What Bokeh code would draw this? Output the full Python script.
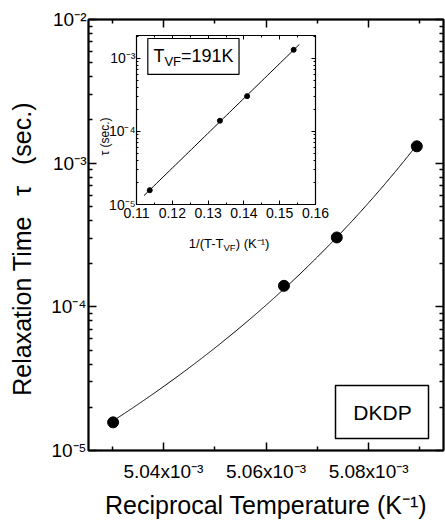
import numpy as np
from bokeh.plotting import figure
from bokeh.models import (Range1d, FixedTicker, CustomJSTickFormatter, LinearAxis,
                          LogAxis, Label, BoxAnnotation)
from bokeh.embed import file_html
from bokeh.resources import INLINE

# ---------------- data ----------------
recip_T = [5.0302e-3, 5.0635e-3, 5.0738e-3, 5.0894e-3]       # 1/T (K^-1)
tau = [1.57e-5, 1.40e-4, 3.04e-4, 1.31e-3]                  # relaxation time (s)
inv_T_minus_TVF = [0.1137, 0.1333, 0.1409, 0.1539]          # 1/(T-T_VF) (K^-1)
T_VF = 191.0
inset_fit_span = [0.1121, 0.1555]

main_x_ticks = [5.04e-3, 5.06e-3, 5.08e-3]
main_x_minor = [5.03e-3, 5.05e-3, 5.07e-3, 5.09e-3]
main_y_ticks = [1e-5, 1e-4, 1e-3, 1e-2]
inset_x_ticks = [0.11, 0.12, 0.13, 0.14, 0.15, 0.16]
inset_x_minor = [0.115, 0.125, 0.135, 0.145, 0.155]
inset_y_ticks = [1e-5, 1e-4, 1e-3]

FONT = "Liberation Sans"

def log_minors(decades):
    return [m * 10.0 ** d for d in decades for m in range(2, 10)]

SUP_JS = """
const sup = {"-":"\u207b","0":"\u2070","1":"\u00b9","2":"\u00b2","3":"\u00b3","4":"\u2074",
             "5":"\u2075","6":"\u2076","7":"\u2077","8":"\u2078","9":"\u2079"};
function s(n){ return String(n).split("").map(c => sup[c]).join(""); }
"""
pow_fmt = CustomJSTickFormatter(code=SUP_JS + """
const e = Math.round(Math.log10(tick));
return "10" + s(e);
""")
sci_fmt = CustomJSTickFormatter(code=SUP_JS + """
return (tick*1e3).toFixed(2) + "x10" + s(-3);
""")
empty_fmt = CustomJSTickFormatter(code="return '';")

# ---------------- fits ----------------
u = 1.0 / (1.0 / np.array(recip_T) - T_VF)
a, b = np.polyfit(u, np.log10(tau), 1)
xs = np.linspace(min(recip_T), max(recip_T), 300)
ys = 10 ** (a / (1.0 / xs - T_VF) + b)

ai, bi = np.polyfit(inv_T_minus_TVF, np.log10(tau), 1)
xi = np.linspace(inset_fit_span[0], inset_fit_span[1], 50)
yi = 10 ** (ai * xi + bi)

# ---------------- main figure ----------------
MX0, MX1 = 5.0254e-3, 5.0946e-3
p = figure(width=445, height=523, x_range=Range1d(MX0, MX1),
           y_range=Range1d(1e-5, 1e-2), y_axis_type="log",
           output_backend="svg", toolbar_location=None,
           min_border_left=88, min_border_right=2, min_border_top=19, min_border_bottom=73,
           background_fill_color="white", border_fill_color="white")
p.grid.visible = False
p.outline_line_color = "black"
p.outline_line_width = 2

# helper: place annotation at a pixel spot of the main frame (layout only)
def main_xy(px, py):
    return MX0 + (px - 88) * (MX1 - MX0) / 355.0, 10 ** (-5 + (450 - py) * 3.0 / 431.0)

def style_axis(ax, size, major_in, minor_in, width):
    ax.axis_line_color = "black"
    ax.axis_line_width = width
    ax.major_tick_in = major_in
    ax.major_tick_out = 0
    ax.minor_tick_in = minor_in
    ax.minor_tick_out = 0
    ax.major_tick_line_color = "black"
    ax.minor_tick_line_color = "black"
    ax.major_tick_line_width = width
    ax.minor_tick_line_width = width
    ax.major_label_text_font = FONT
    ax.major_label_text_font_size = size
    ax.major_label_text_color = "black"
    ax.axis_label_text_font = FONT
    ax.axis_label_text_font_style = "normal"
    ax.axis_label_text_color = "black"

xt = FixedTicker(ticks=main_x_ticks, minor_ticks=main_x_minor)
yt = FixedTicker(ticks=main_y_ticks, minor_ticks=log_minors([-5, -4, -3]))

p.xaxis.ticker = xt
p.xaxis.formatter = sci_fmt
p.yaxis.ticker = yt
p.yaxis.formatter = pow_fmt
style_axis(p.xaxis[0], "19px", 8, 4, 1.5)
style_axis(p.yaxis[0], "19px", 8, 4, 1.5)
p.xaxis.major_label_standoff = 10
p.yaxis.major_label_standoff = 2
p.xaxis.axis_label = "Reciprocal Temperature (K\u207b\u00b9)"
p.yaxis.axis_label = "Relaxation Time\u00a0\u00a0\u00a0\u03c4\u00a0\u00a0\u00a0(sec.)\u00a0\u00a0\u00a0\u00a0"
p.xaxis.axis_label_text_font_size = "25px"
p.yaxis.axis_label_text_font_size = "25px"
p.xaxis.axis_label_standoff = 6
p.yaxis.axis_label_standoff = 12

top = LinearAxis(ticker=xt, formatter=empty_fmt)
right = LogAxis(ticker=yt, formatter=empty_fmt)
for ax in (top, right):
    style_axis(ax, "0px", 8, 4, 1.5)
    ax.major_label_standoff = 0
p.add_layout(top, "above")
p.add_layout(right, "right")

p.line(xs, ys, line_color="black", line_width=1)
p.scatter(recip_T, tau, size=11, color="black")

bl, bb = main_xy(335, 438)
br, bt = main_xy(428, 385)
p.add_layout(BoxAnnotation(left=bl, right=br, bottom=bb, top=bt,
                           fill_color="white", fill_alpha=1, line_color="black",
                           line_alpha=1, line_width=1.5))
dx, dy = main_xy(382, 412)
p.add_layout(Label(x=dx, y=dy, text="DKDP", text_font=FONT,
                   text_font_size="21px", text_align="center", text_baseline="middle",
                   text_color="black"))

common = dict(text_font=FONT, text_color="black", text_baseline="middle")
# inset axis titles (drawn on the main canvas, under the transparent inset border)
lx, ly = main_xy(229, 243)
p.add_layout(Label(x=lx, y=ly, x_offset=-6.0, text="1/(T-T", text_font_size="13px",
                   text_align="right", **common))
p.add_layout(Label(x=lx, y=ly, x_offset=-6.0, y_offset=-4, text="VF", text_font_size="9.5px",
                   text_align="left", **common))
p.add_layout(Label(x=lx, y=ly, x_offset=6.2, text=") (K\u207b\u00b9)", text_font_size="13px",
                   text_align="left", **common))
tx, ty = main_xy(104, 136)
p.add_layout(Label(x=tx, y=ty, text="\u03c4 (sec.)", text_font_size="12px",
                   angle=np.pi / 2, text_align="center", **common))

# ---------------- inset figure ----------------
inset = figure(frame_width=179, frame_height=169, x_range=Range1d(0.11, 0.16),
               y_range=Range1d(1e-5, 10 ** -2.687), y_axis_type="log",
               output_backend="svg", toolbar_location=None,
               min_border_left=45, min_border_right=22, min_border_top=5, min_border_bottom=30,
               background_fill_color="white", border_fill_alpha=0,
               styles={"position": "absolute", "left": "91px", "top": "30px"})
inset.grid.visible = False
inset.outline_line_color = "black"
inset.outline_line_width = 1.2

ixt = FixedTicker(ticks=inset_x_ticks, minor_ticks=inset_x_minor)
iyt = FixedTicker(ticks=inset_y_ticks, minor_ticks=log_minors([-5, -4, -3]))
inset.xaxis.ticker = ixt
inset.xaxis.formatter = CustomJSTickFormatter(code="return tick.toFixed(2);")
inset.yaxis.ticker = iyt
inset.yaxis.formatter = pow_fmt
style_axis(inset.xaxis[0], "14px", 4, 2, 1)
style_axis(inset.yaxis[0], "14px", 4, 2, 1)
inset.xaxis.major_label_standoff = 3
inset.yaxis.major_label_standoff = 1

itop = LinearAxis(ticker=ixt, formatter=empty_fmt)
iright = LogAxis(ticker=iyt, formatter=empty_fmt)
for ax in (itop, iright):
    style_axis(ax, "0px", 4, 2, 1)
    ax.major_label_standoff = 0
inset.add_layout(itop, "above")
inset.add_layout(iright, "right")

inset.line(xi, yi, line_color="black", line_width=1)
inset.scatter(inv_T_minus_TVF, tau, size=5, color="black")

# T_VF box
inset.add_layout(BoxAnnotation(left=0.11316, right=0.13864, bottom=6.03e-4, top=1.87e-3,
                               fill_color="white", fill_alpha=1, line_color="black",
                               line_alpha=1, line_width=1.2))
bx, by = 0.1259, 10 ** -2.974
inset.add_layout(Label(x=bx, y=by, x_offset=-29, text="T", text_font_size="18px",
                       text_align="right", **common))
inset.add_layout(Label(x=bx, y=by, x_offset=-29, y_offset=-5, text="VF", text_font_size="13px",
                       text_align="left", **common))
inset.add_layout(Label(x=bx, y=by, x_offset=-12.4, text="=191K", text_font_size="18px",
                       text_align="left", **common))

open("out.html", "w").write(file_html([p, inset], INLINE))
